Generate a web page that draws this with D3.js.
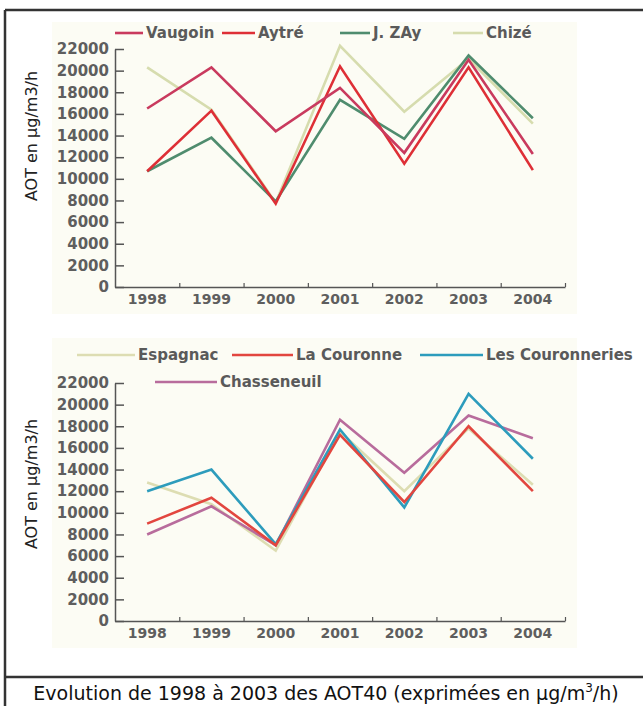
<!DOCTYPE html>
<html><head><meta charset="utf-8">
<script src="https://cdn.jsdelivr.net/npm/d3@7"></script>
<style>body{margin:0;background:#fff}svg{display:block}</style>
</head><body>
<svg id="c" width="643" height="706"></svg>
<script>
// ---- data ----
const years = ["1998","1999","2000","2001","2002","2003","2004"];
const yTicks = [0,2000,4000,6000,8000,10000,12000,14000,16000,18000,20000,22000];
const yTitle = "AOT en µg/m3/h";

const topNames = ["Vaugoin","Aytré","J. ZAy","Chizé"];
const vaugoin = [16500,20300,14400,18400,12400,21000,12300];
const aytre   = [10700,16300,7700,20400,11400,20300,10800];
const jzay    = [10700,13800,7900,17300,13700,21400,15600];
const chize   = [20300,16400,7800,22300,16200,21100,15100];

const bottomNames = ["Espagnac","La Couronne","Les Couronneries","Chasseneuil"];
const espagnac       = [12800,10800,6500,17500,12000,17800,12600];
const laCouronne     = [9000,11400,7000,17200,11000,18000,12000];
const lesCouronneries= [12000,14000,7100,17700,10500,21000,15000];
const chasseneuil    = [8000,10600,7000,18600,13700,19000,16900];

const caption = "Evolution de 1998 à 2003 des AOT40 (exprimées en µg/m";
const captionSup = "3";
const captionEnd = "/h)";

// ---- styles / layout ----
const topColors = {"Vaugoin":"#c93a5e","Aytré":"#de2f36","J. ZAy":"#4f8c6e","Chizé":"#d6dcae"};
const bottomColors = {"Espagnac":"#ddddb2","La Couronne":"#e2463f","Les Couronneries":"#2d9cbc","Chasseneuil":"#b86c9c"};
const topDrawOrder = ["Chizé","J. ZAy","Aytré","Vaugoin"];
const bottomDrawOrder = ["Espagnac","Chasseneuil","Les Couronneries","La Couronne"];
const topLegend = [
  {name:"Vaugoin",x1:115,x2:143,y:33},
  {name:"Aytré",x1:222,x2:255,y:33},
  {name:"J. ZAy",x1:340,x2:370,y:33},
  {name:"Chizé",x1:453,x2:483,y:33}];
const bottomLegend = [
  {name:"Espagnac",x1:77,x2:135,y:355},
  {name:"La Couronne",x1:232,x2:293,y:355},
  {name:"Les Couronneries",x1:420,x2:483,y:355},
  {name:"Chasseneuil",x1:155,x2:217,y:382}];

const svg = d3.select("#c");
const topData = {"Vaugoin":vaugoin,"Aytré":aytre,"J. ZAy":jzay,"Chizé":chize};
const bottomData = {"Espagnac":espagnac,"La Couronne":laCouronne,"Les Couronneries":lesCouronneries,"Chasseneuil":chasseneuil};

// cream backgrounds of the pasted chart images
svg.append("rect").attr("x",52).attr("y",22).attr("width",525).attr("height",292).attr("fill","#fcfcf4");
svg.append("rect").attr("x",52).attr("y",338).attr("width",525).attr("height",310).attr("fill","#fcfcf4");

function panel(cfg){
  const x = d3.scaleBand().domain(years).range([115,565]);
  const y = d3.scaleLinear().domain([0,22000]).range([cfg.y0,cfg.y0-238]);
  const g = svg.append("g");
  // y axis
  const ya = g.append("g").attr("transform","translate(115,0)")
    .call(d3.axisLeft(y).tickValues(yTicks).tickFormat(d3.format("d")).tickSizeInner(-9).tickSizeOuter(0).tickPadding(6));
  ya.selectAll("path,line").attr("stroke","#555").attr("stroke-width",1.5);
  ya.selectAll("text").attr("font-family","DejaVu Sans").attr("font-weight","bold")
    .attr("font-size",15).attr("fill","#5e5e5e");
  // x axis
  const xa = g.append("g").attr("transform",`translate(0,${cfg.y0})`)
    .call(d3.axisBottom(x).tickSize(0).tickPadding(7));
  xa.select("path").attr("stroke","#555").attr("stroke-width",1.5);
  xa.selectAll("text").attr("font-family","DejaVu Sans").attr("font-weight","bold")
    .attr("font-size",14).attr("fill","#5e5e5e");
  const xb = g.append("g").attr("transform",`translate(0,${cfg.y0})`)
    .call(d3.axisBottom(d3.scaleLinear().domain([0,7]).range([115,565])).tickValues([1,2,3,4,5,6,7]).tickSize(-4).tickFormat(""));
  xb.select("path").remove();
  xb.selectAll("line").attr("stroke","#555").attr("stroke-width",1.2);
  // y title
  g.append("text").attr("transform",`translate(37,${cfg.titleY}) rotate(-90)`)
    .attr("text-anchor","middle").attr("font-family","DejaVu Sans").attr("font-size",16)
    .attr("fill","#222").text(yTitle);
  // lines
  const line = d3.line().x((d,i)=>x(years[i])+x.bandwidth()/2).y(d=>y(d));
  cfg.order.forEach(n=>{
    g.append("path").datum(cfg.data[n]).attr("d",line).attr("fill","none")
      .attr("stroke",cfg.colors[n]).attr("stroke-width",2.6);
  });
  // legend
  cfg.legend.forEach(l=>{
    g.append("line").attr("x1",l.x1).attr("x2",l.x2).attr("y1",l.y).attr("y2",l.y)
      .attr("stroke",cfg.colors[l.name]).attr("stroke-width",2.6);
    g.append("text").attr("x",l.x2+3).attr("y",l.y).attr("dy","0.35em")
      .attr("font-family","DejaVu Sans").attr("font-weight","bold").attr("font-size",15)
      .attr("fill","#5a5a5a").text(l.name);
  });
}
panel({y0:287,titleY:136,data:topData,colors:topColors,order:topDrawOrder,legend:topLegend});
panel({y0:621,titleY:484,data:bottomData,colors:bottomColors,order:bottomDrawOrder,legend:bottomLegend});

// frame
const fr = svg.append("g").attr("stroke","#333").attr("stroke-width",2.5);
fr.append("line").attr("x1",5).attr("x2",643).attr("y1",10).attr("y2",10);
fr.append("line").attr("x1",5).attr("x2",5).attr("y1",10).attr("y2",706);
fr.append("line").attr("x1",5).attr("x2",643).attr("y1",677).attr("y2",677);

// caption
const cap = svg.append("text").attr("x",326).attr("y",700).attr("text-anchor","middle")
  .attr("font-family","DejaVu Sans").attr("font-size",19).attr("fill","#111");
cap.append("tspan").text(caption);
cap.append("tspan").attr("font-size",12).attr("dy",-8).text(captionSup);
cap.append("tspan").attr("dy",8).text(captionEnd);
</script>
</body></html>
